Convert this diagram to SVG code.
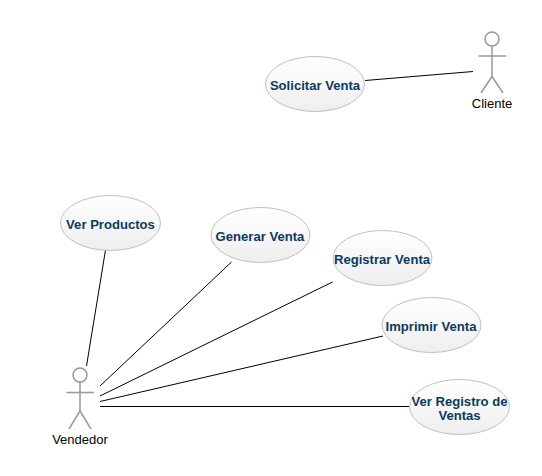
<svg xmlns="http://www.w3.org/2000/svg" width="542" height="476" viewBox="0 0 542 476">
<defs>
<linearGradient id="g" x1="0" y1="0" x2="0" y2="1"><stop offset="0" stop-color="#ffffff"/><stop offset="1" stop-color="#eeeeee"/></linearGradient>
</defs>
<style>
.uc{fill:url(#g);stroke:#c0c0c0;stroke-width:1}
.ut{font:bold 13.100px "Liberation Sans",Arial,sans-serif;fill:#0b3a5e;text-anchor:middle}
.at{font:13px "Liberation Sans",Arial,sans-serif;fill:#000;text-anchor:middle}
.fig{fill:none;stroke:#999;stroke-width:1.5}
.c{stroke:#000;stroke-width:1;fill:none}
</style>
<rect width="542" height="476" fill="#fff"/>
<g id="connectors">
<line class="c" x1="365" y1="80.500" x2="473" y2="71.500"/>
<line class="c" x1="105.500" y1="250" x2="86.500" y2="366"/>
<line class="c" x1="231.500" y1="262" x2="100" y2="386"/>
<line class="c" x1="332.500" y1="282" x2="100" y2="396"/>
<line class="c" x1="383" y1="336" x2="100" y2="401.500"/>
<line class="c" x1="410" y1="406.500" x2="100" y2="406.500"/>
</g>
<g id="solicitar"><ellipse class="uc" cx="315" cy="84" rx="49.500" ry="27.500"/><text class="ut" x="315" y="90">Solicitar Venta</text></g>
<g id="productos"><ellipse class="uc" cx="110.500" cy="223" rx="50" ry="27.500"/><text class="ut" x="110.500" y="229">Ver Productos</text></g>
<g id="generar"><ellipse class="uc" cx="260.500" cy="235" rx="49.500" ry="27.500"/><text class="ut" x="260" y="241">Generar Venta</text></g>
<g id="registrar"><ellipse class="uc" cx="382.500" cy="258" rx="49.500" ry="27.500"/><text class="ut" x="382" y="264">Registrar Venta</text></g>
<g id="imprimir"><ellipse class="uc" cx="431.500" cy="325" rx="49.500" ry="27.500"/><text class="ut" x="431" y="331">Imprimir Venta</text></g>
<g id="registro"><ellipse class="uc" cx="459.500" cy="407" rx="50" ry="27.500"/><text class="ut" x="459.500" y="406">Ver Registro de</text><text class="ut" x="459.500" y="420">Ventas</text></g>
<g id="cliente"><g class="fig"><circle cx="492" cy="39" r="7"/><path d="M492 46V76.500M478.500 56H506M492 76.500L481 93M492 76.500L503 93"/></g><text class="at" x="492" y="108">Cliente</text></g>
<g id="vendedor"><g class="fig"><circle cx="80" cy="375" r="7"/><path d="M80 382V411M66.500 392.500H94M80 411L69 429M80 411L91 429"/></g><text class="at" x="80" y="444">Vendedor</text></g>
</svg>
